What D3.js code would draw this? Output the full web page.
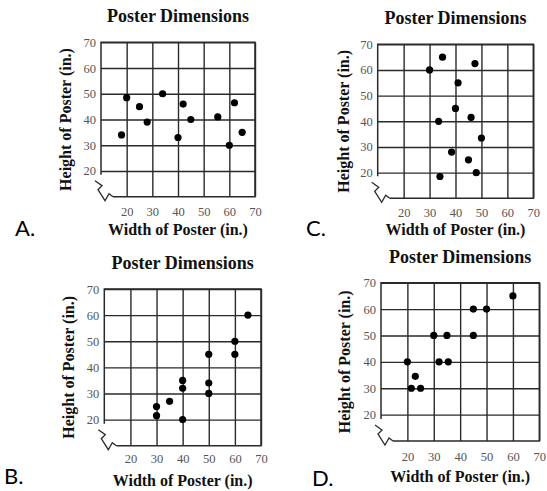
<!DOCTYPE html>
<html><head><meta charset="utf-8">
<script src="https://cdn.jsdelivr.net/npm/d3@7"></script>
<style>body{margin:0;background:#fff}svg{display:block}</style>
</head><body>
<svg id="c" width="547" height="491"></svg>
<script>
// ---- data ----
const title = "Poster Dimensions";
const xTitle = "Width of Poster (in.)";
const yTitle = "Height of Poster (in.)";
const tickValues = [20, 30, 40, 50, 60, 70];
const panelLetters = ["A.", "B.", "C.", "D."];

const aWidth  = [18, 20, 25, 28, 34, 40, 42, 45, 55.5, 60, 62, 65];
const aHeight = [34, 48.5, 45, 39, 50, 33, 46, 40, 41, 30, 46.5, 35];

const bWidth  = [30, 30, 35, 40, 40, 40, 50, 50, 50, 60, 60, 65];
const bHeight = [21.5, 25, 27, 20, 32, 35, 30, 34, 45, 45, 50, 60];

const cWidth  = [35, 47.5, 30, 41, 40, 46, 33.5, 50, 38.5, 45, 48, 34];
const cHeight = [65, 62.5, 60, 55, 45, 41.5, 40, 33.5, 28, 25, 20, 18.5];

const dWidth  = [21.5, 25, 23, 20, 32, 35.5, 30, 35, 45, 45, 50, 60];
const dHeight = [30, 30, 34.5, 40, 40, 40, 50, 50, 50, 60, 60, 65];

// ---- layout ----
const layout = [
  {letter: panelLetters[0], xs: aWidth, ys: aHeight, left: 101, right: 255, top: 42.3, bottom: 196.7,
   tickDy: 15, xtDy: 38, ytDx: -36, lx: 15, ly: 236},
  {letter: panelLetters[1], xs: bWidth, ys: bHeight, left: 104.3, right: 261, top: 289, bottom: 445.7,
   tickDy: 13, xtDy: 40.5, ytDx: -36, lx: 4, ly: 484},
  {letter: panelLetters[2], xs: cWidth, ys: cHeight, left: 377.7, right: 533.3, top: 44.3, bottom: 198.3,
   tickDy: 15, xtDy: 37, ytDx: -34, lx: 306, ly: 236},
  {letter: panelLetters[3], xs: dWidth, ys: dHeight, left: 381, right: 539.3, top: 282.7, bottom: 441,
   tickDy: 16, xtDy: 41, ytDx: -37, lx: 312, ly: 486}
];

const svg = d3.select("#c");
const serif = "'Liberation Serif', 'Times New Roman', serif";
const gridColor = "#2a2a2a";

layout.forEach(p => {
  const x = d3.scaleLinear().domain([10, 70]).range([p.left, p.right]);
  const y = d3.scaleLinear().domain([10, 70]).range([p.bottom, p.top]);
  const g = svg.append("g");
  const w = p.right - p.left, h = p.bottom - p.top;

  // vertical gridlines + x tick labels
  const gx = g.append("g").attr("transform", `translate(0,${p.bottom})`)
    .call(d3.axisBottom(x).tickValues(tickValues).tickSize(-h).tickPadding(0).tickFormat(d3.format("d")));
  gx.select(".domain").remove();
  gx.selectAll(".tick line").attr("stroke", gridColor).attr("stroke-width", 1.4);
  gx.selectAll(".tick text").attr("y", p.tickDy).attr("dy", "0.32em")
    .attr("font-family", serif).attr("font-size", 12.5).attr("fill", "#555");

  // horizontal gridlines + y tick labels
  const gy = g.append("g").attr("transform", `translate(${p.left},0)`)
    .call(d3.axisLeft(y).tickValues(tickValues).tickSize(-w).tickPadding(5).tickFormat(d3.format("d")));
  gy.select(".domain").remove();
  gy.selectAll(".tick line").attr("stroke", gridColor).attr("stroke-width", 1.4);
  gy.selectAll(".tick text").attr("font-family", serif).attr("font-size", 12.5).attr("fill", "#555");

  // frame with broken-axis symbol at lower-left
  const x0 = p.left, y0 = p.bottom;
  const frame = d3.path();
  frame.moveTo(x0, y0 - 22);
  frame.lineTo(x0, p.top);
  frame.lineTo(p.right, p.top);
  frame.lineTo(p.right, y0);
  frame.lineTo(x0 + 12, y0);
  g.append("path").attr("d", frame.toString()).attr("fill", "none")
    .attr("stroke", gridColor).attr("stroke-width", 1.5);
  const zig = d3.path();
  zig.moveTo(x0 - 6, y0 - 16);
  zig.lineTo(x0 + 1, y0 - 11);
  zig.lineTo(x0 - 3, y0 - 7);
  zig.lineTo(x0 + 4, y0 + 4);
  zig.lineTo(x0 + 8, y0 - 3);
  zig.lineTo(x0 + 12, y0);
  g.append("path").attr("d", zig.toString()).attr("fill", "none")
    .attr("stroke", gridColor).attr("stroke-width", 1.3).attr("stroke-linejoin", "miter");

  // points
  g.selectAll("circle.pt").data(p.xs.map((v, i) => [v, p.ys[i]])).join("circle")
    .attr("class", "pt").attr("cx", d => x(d[0])).attr("cy", d => y(d[1]))
    .attr("r", 3.6).attr("fill", "#000");

  const cx = (p.left + p.right) / 2, cy = (p.top + p.bottom) / 2;
  // title
  g.append("text").attr("x", cx).attr("y", p.top - 20).attr("text-anchor", "middle")
    .attr("font-family", serif).attr("font-weight", "bold").attr("font-size", 18).attr("fill", "#111")
    .text(title);
  // x title
  g.append("text").attr("x", cx).attr("y", p.bottom + p.xtDy).attr("text-anchor", "middle")
    .attr("font-family", serif).attr("font-weight", "bold").attr("font-size", 16).attr("fill", "#111")
    .text(xTitle);
  // y title
  g.append("text").attr("transform", `translate(${p.left + p.ytDx},${cy}) rotate(-90)`)
    .attr("text-anchor", "middle").attr("dy", "0.35em")
    .attr("font-family", serif).attr("font-weight", "bold").attr("font-size", 16).attr("fill", "#111")
    .text(yTitle);
  // panel letter
  g.append("text").attr("x", p.lx).attr("y", p.ly)
    .attr("font-family", "Lato, 'DejaVu Sans', sans-serif").attr("font-size", 22).attr("fill", "#000")
    .text(p.letter);
});
</script>
</body></html>
